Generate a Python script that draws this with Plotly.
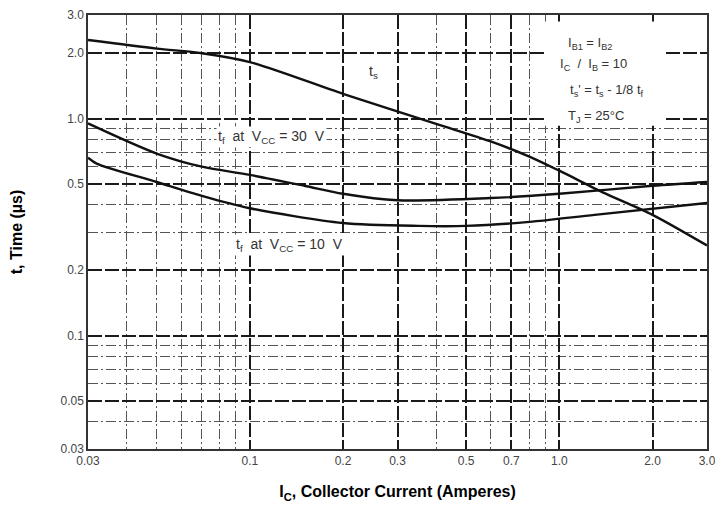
import plotly.graph_objects as go

# ---- data ----
ic_ts = [0.03, 0.05, 0.07, 0.1, 0.2, 0.4, 0.6, 0.8, 1.0, 1.4, 2.0, 3.0]
t_s = [2.3, 2.1, 2.0, 1.82, 1.30, 0.945, 0.784, 0.668, 0.575, 0.453, 0.36, 0.26]

ic_tf30 = [0.03, 0.05, 0.07, 0.1, 0.15, 0.2, 0.3, 0.6, 1.0, 2.0, 3.0]
t_f30 = [0.95, 0.69, 0.60, 0.55, 0.49, 0.45, 0.42, 0.43, 0.45, 0.49, 0.51]

ic_tf10 = [0.03, 0.032, 0.05, 0.07, 0.1, 0.2, 0.35, 0.5, 0.8, 1.3, 3.0]
t_f10 = [0.66, 0.62, 0.51, 0.44, 0.386, 0.33, 0.32, 0.32, 0.334, 0.36, 0.408]

x_major = [0.03, 0.1, 0.2, 0.3, 0.5, 0.7, 1.0, 2.0, 3.0]
x_major_text = ["0.03", "0.1", "0.2", "0.3", "0.5", "0.7", "1.0", "2.0", "3.0"]
x_minor = [0.04, 0.05, 0.06, 0.07, 0.08, 0.09, 0.4, 0.6, 0.8, 0.9]

y_major = [0.03, 0.05, 0.1, 0.2, 0.5, 1.0, 2.0, 3.0]
y_major_text = ["0.03", "0.05", "0.1", "0.2", "0.5", "1.0", "2.0", "3.0"]
y_minor = [0.04, 0.06, 0.07, 0.08, 0.09, 0.3, 0.4, 0.6, 0.7, 0.8, 0.9]

curve_style = dict(color="#111111", width=2.4, shape="spline", smoothing=0.8)

fig = go.Figure()
fig.add_trace(go.Scatter(x=ic_ts, y=t_s, mode="lines", line=curve_style, name="ts"))
fig.add_trace(go.Scatter(x=ic_tf30, y=t_f30, mode="lines", line=curve_style, name="tf30"))
fig.add_trace(go.Scatter(x=ic_tf10, y=t_f10, mode="lines", line=curve_style, name="tf10"))

font_txt = dict(family="Liberation Sans, Arial", size=13, color="#333333")
font_lbl = dict(family="Liberation Sans, Arial", size=14, color="#333333")

# page body has an 8px margin: plot area targets page x 88..707, y 15..449
fig.update_layout(
    width=723, height=516,
    margin=dict(l=80, r=24, t=7, b=75),
    paper_bgcolor="white", plot_bgcolor="white",
    showlegend=False,
    font=dict(family="Liberation Sans, Arial", size=12, color="#333333"),
)

fig.update_xaxes(
    type="log", range=[-1.5228787, 0.4771213],
    tickvals=x_major, ticktext=x_major_text,
    tickfont=dict(size=12, color="#444444"),
    showgrid=True, gridcolor="#1a1a1a", gridwidth=1.6, griddash="14px,3px",
    minor=dict(tickvals=x_minor, showgrid=True, gridcolor="#555555", gridwidth=1, griddash="10px,3px,2px,3px"),
    showline=True, mirror=True, linecolor="#333333", linewidth=1.5,
    ticks="", zeroline=False, automargin=False,
    title=dict(text="<b>I<sub>C</sub>, Collector Current (Amperes)</b>", font=dict(size=16, color="#000000"), standoff=19),
)
fig.update_yaxes(
    type="log", range=[-1.5228787, 0.4771213],
    tickvals=y_major, ticktext=y_major_text,
    tickfont=dict(size=12, color="#444444"),
    showgrid=True, gridcolor="#1a1a1a", gridwidth=1.6, griddash="14px,3px",
    minor=dict(tickvals=y_minor, showgrid=True, gridcolor="#555555", gridwidth=1, griddash="10px,3px,2px,3px"),
    showline=True, mirror=True, linecolor="#333333", linewidth=1.5,
    ticks="", zeroline=False, automargin=False,
    title=dict(text="<b>t, Time (µs)</b>", font=dict(size=16, color="#000000"), standoff=36),
)

# white box behind the condition text block
fig.add_shape(type="rect", xref="paper", yref="paper", x0=0.737, x1=0.93, y0=0.745, y1=0.985,
              fillcolor="white", line=dict(width=0), layer="above")

cond = [
    ("I<sub>B1</sub> = I<sub>B2</sub>", 0.772, 0.935),
    ("I<sub>C</sub>  /  I<sub>B</sub> = 10", 0.760, 0.885),
    ("t<sub>s</sub>' = t<sub>s</sub> - 1/8 t<sub>f</sub>", 0.775, 0.827),
    ("T<sub>J</sub> = 25°C", 0.772, 0.765),
]
for txt, px, py in cond:
    fig.add_annotation(text=txt, xref="paper", yref="paper", x=px, y=py, xanchor="left", yanchor="middle",
                       showarrow=False, font=font_txt)

fig.add_annotation(text="t<sub>s</sub>", xref="paper", yref="paper", x=0.462, y=0.869,
                   xanchor="center", yanchor="middle", showarrow=False, font=font_lbl)
fig.add_annotation(text="t<sub>f</sub>  at  V<sub>CC</sub> = 30  V", xref="paper", yref="paper", x=0.297, y=0.719,
                   xanchor="center", yanchor="middle", showarrow=False, font=font_lbl, bgcolor="white")
fig.add_annotation(text="t<sub>f</sub>  at  V<sub>CC</sub> = 10  V", xref="paper", yref="paper", x=0.326, y=0.470,
                   xanchor="center", yanchor="middle", showarrow=False, font=font_lbl, bgcolor="white")

fig.write_html("out.html")
